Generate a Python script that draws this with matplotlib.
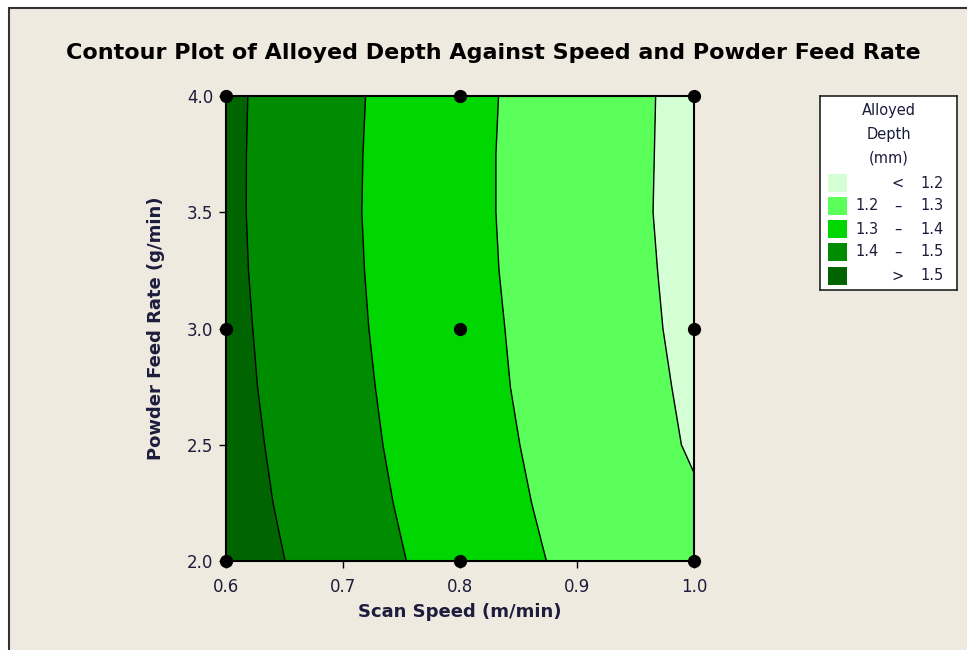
import matplotlib
matplotlib.use("Agg")
import matplotlib.pyplot as plt
from matplotlib.patches import Rectangle
import numpy as np

# scan speed (m/min) and powder feed rate (g/min) grid, depth
speed = [0.6, 0.7, 0.8, 0.9, 1.0]
feed = [2.0, 2.25, 2.5, 2.75, 3.0, 3.25, 3.5, 3.75, 4.0]
depth = [
    [1.556, 1.445, 1.362, 1.278, 1.220],
    [1.543, 1.436, 1.352, 1.267, 1.2075],
    [1.535, 1.429, 1.344, 1.258, 1.193],
    [1.528, 1.424, 1.337, 1.251, 1.188],
    [1.524, 1.419, 1.333, 1.247, 1.183],
    [1.520, 1.416, 1.329, 1.242, 1.181],
    [1.518, 1.414, 1.327, 1.239, 1.179],
    [1.518, 1.415, 1.327, 1.239, 1.180],
    [1.519, 1.417, 1.329, 1.241, 1.180],
]
levels = [1.2, 1.3, 1.4, 1.5]
colors = ["#d4ffd4", "#5aff5a", "#00d700", "#008c00", "#006400"]
legend_labels = [("", "<", "1.2"), ("1.2", "\u2013", "1.3"), ("1.3", "\u2013", "1.4"),
                 ("1.4", "\u2013", "1.5"), ("", ">", "1.5")]

# design points
pts_x = [0.6, 0.6, 0.6, 0.8, 0.8, 0.8, 1.0, 1.0, 1.0]
pts_y = [2.0, 3.0, 4.0, 2.0, 3.0, 4.0, 2.0, 3.0, 4.0]

bg = "#efeae0"
txt = "#1c1c3c"

fig = plt.figure(figsize=(9.67, 6.5), dpi=100)
fig.patch.set_facecolor("white")
fig.patches.append(Rectangle((9 / 967, -0.1), 1.2, (650 - 8) / 650 + 0.1,
                             transform=fig.transFigure, facecolor=bg,
                             edgecolor="#333333", lw=1.5, zorder=-10))

ax = fig.add_axes([226 / 967, 1 - 561 / 650, 468 / 967, 465 / 650])
X, Y = np.meshgrid(speed, feed)
Z = np.array(depth)
bounds = [0] + levels + [3]
ax.contourf(X, Y, Z, levels=bounds, colors=colors)
ax.contour(X, Y, Z, levels=levels, colors="black", linewidths=1.0)
ax.plot(pts_x, pts_y, "o", color="black", ms=8.5, clip_on=False, zorder=5)

ax.set_xlim(0.6, 1.0)
ax.set_ylim(2.0, 4.0)
ax.set_xticks([0.6, 0.7, 0.8, 0.9, 1.0])
ax.set_yticks([2.0, 2.5, 3.0, 3.5, 4.0])
ax.set_xticklabels(["0.6", "0.7", "0.8", "0.9", "1.0"])
ax.set_yticklabels(["2.0", "2.5", "3.0", "3.5", "4.0"])
ax.tick_params(direction="out", length=5, width=1, labelsize=12, labelcolor=txt, pad=4)
ax.tick_params(axis="x", pad=7)
for s in ax.spines.values():
    s.set_linewidth(1.5)
ax.set_xlabel("Scan Speed (m/min)", fontsize=13, fontweight="bold", color=txt, labelpad=5)
ax.set_ylabel("Powder Feed Rate (g/min)", fontsize=13, fontweight="bold", color=txt, labelpad=16)

fig.text(493 / 967, 1 - 53 / 650, "Contour Plot of Alloyed Depth Against Speed and Powder Feed Rate",
         ha="center", va="center", fontsize=16, fontweight="bold", color="black")

# legend box
lg = fig.add_axes([820 / 967, 1 - 290 / 650, 137 / 967, 194 / 650])
lg.set_xlim(820, 957)
lg.set_ylim(290, 96)
lg.set_xticks([])
lg.set_yticks([])
lg.set_facecolor("white")
for s in lg.spines.values():
    s.set_linewidth(1.2)
    s.set_color("#222222")
lg.text(889, 111, "Alloyed", ha="center", va="center", fontsize=10.5, color=txt)
lg.text(889, 134, "Depth", ha="center", va="center", fontsize=10.5, color=txt)
lg.text(889, 158, "(mm)", ha="center", va="center", fontsize=10.5, color=txt)
row_y = [183, 206, 229, 252, 276]
for c, (lo, sep, hi), yy in zip(colors, legend_labels, row_y):
    lg.add_patch(Rectangle((828, yy - 9), 19, 18, facecolor=c, edgecolor="none"))
    lg.text(879, yy, lo, ha="right", va="center", fontsize=10.5, color=txt)
    lg.text(898, yy, sep, ha="center", va="center", fontsize=10.5, color=txt)
    lg.text(944, yy, hi, ha="right", va="center", fontsize=10.5, color=txt)

fig.savefig("out.png", dpi=100, facecolor=fig.get_facecolor())
